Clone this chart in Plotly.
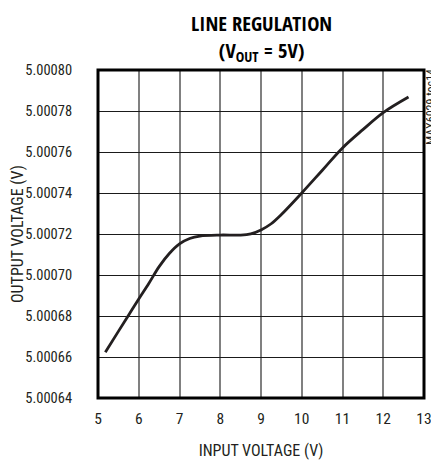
import plotly.graph_objects as go

# Data
input_voltage = [5.18, 5.5, 5.75, 6.0, 6.25, 6.5, 6.75, 7.0, 7.25, 7.5, 8.0, 8.5,
                 8.75, 9.0, 9.25, 9.5, 10.0, 10.5, 11.0, 11.5, 12.0, 12.62]
output_voltage = [5.0006623, 5.0006725, 5.0006804, 5.0006883, 5.000696, 5.0007041,
                  5.0007105, 5.0007152, 5.0007178, 5.000719, 5.0007195, 5.0007195,
                  5.0007201, 5.000722, 5.000725, 5.0007295, 5.000740, 5.000751,
                  5.000762, 5.0007709, 5.0007792, 5.0007868]
x_ticks = [5, 6, 7, 8, 9, 10, 11, 12, 13]
y_ticks = [5.00064, 5.00066, 5.00068, 5.00070, 5.00072, 5.00074, 5.00076, 5.00078, 5.00080]
y_tick_labels = ["5.00064", "5.00066", "5.00068", "5.00070", "5.00072",
                 "5.00074", "5.00076", "5.00078", "5.00080"]

FONT = "Roboto Condensed, Liberation Sans, sans-serif"
TITLE_FONT = "Open Sans Condensed, Roboto Condensed, sans-serif"

fig = go.Figure()
fig.add_trace(go.Scatter(
    x=input_voltage, y=output_voltage, mode="lines",
    line=dict(color="#231f20", width=2.8, shape="spline", smoothing=1.0),
    hoverinfo="skip", showlegend=False,
))

# page body has an 8px default margin, so the figure is sized to fill the rest
fig.update_layout(
    width=431, height=452,
    margin=dict(l=90, r=15, t=62, b=62, autoexpand=False),
    paper_bgcolor="white", plot_bgcolor="white",
    font=dict(family=FONT, size=15, color="#231f20"),
    showlegend=False,
    xaxis=dict(
        range=[5, 13], tickvals=x_ticks, ticktext=[str(v) for v in x_ticks],
        showgrid=True, gridcolor="#808080", gridwidth=1.6,
        zeroline=False, showline=False, automargin=False,
        ticks="outside", ticklen=6, tickcolor="rgba(0,0,0,0)",
        title=dict(text="INPUT VOLTAGE (V)", standoff=18,
                   font=dict(family=FONT, size=16)),
        tickfont=dict(family=FONT, size=15.5),
        fixedrange=True,
    ),
    yaxis=dict(
        range=[5.00064, 5.00080], tickvals=y_ticks, ticktext=y_tick_labels,
        showgrid=True, gridcolor="#1a1a1a", gridwidth=1,
        zeroline=False, showline=False, automargin=False,
        ticks="outside", ticklen=22, tickcolor="rgba(0,0,0,0)",
        tickfont=dict(family=FONT, size=14.5),
        fixedrange=True,
    ),
    shapes=[dict(type="rect", xref="paper", yref="paper", x0=0, x1=1, y0=0, y1=1,
                 line=dict(color="#000000", width=3), fillcolor="rgba(0,0,0,0)",
                 layer="above")],
    annotations=[
        dict(text="<b>LINE REGULATION</b><br><b>(V<sub>OUT</sub> = 5V)</b>",
             xref="paper", yref="paper",
             x=0.5, y=1, yshift=33, showarrow=False, align="center",
             font=dict(family=TITLE_FONT, size=20.5, color="#000000"),
             xanchor="center", yanchor="middle"),
        dict(text="OUTPUT VOLTAGE (V)", xref="paper", yref="paper",
             x=0, xshift=-81, y=0.5, showarrow=False, textangle=-90,
             font=dict(family=FONT, size=16, color="#231f20"),
             xanchor="center", yanchor="middle"),
        dict(text="MAX6029 toc14", xref="paper", yref="paper",
             x=1, xshift=7, y=1, yshift=3, showarrow=False, textangle=-90,
             font=dict(family=FONT, size=12, color="#231f20"),
             xanchor="center", yanchor="top"),
    ],
)

fig.write_html("out.html")
